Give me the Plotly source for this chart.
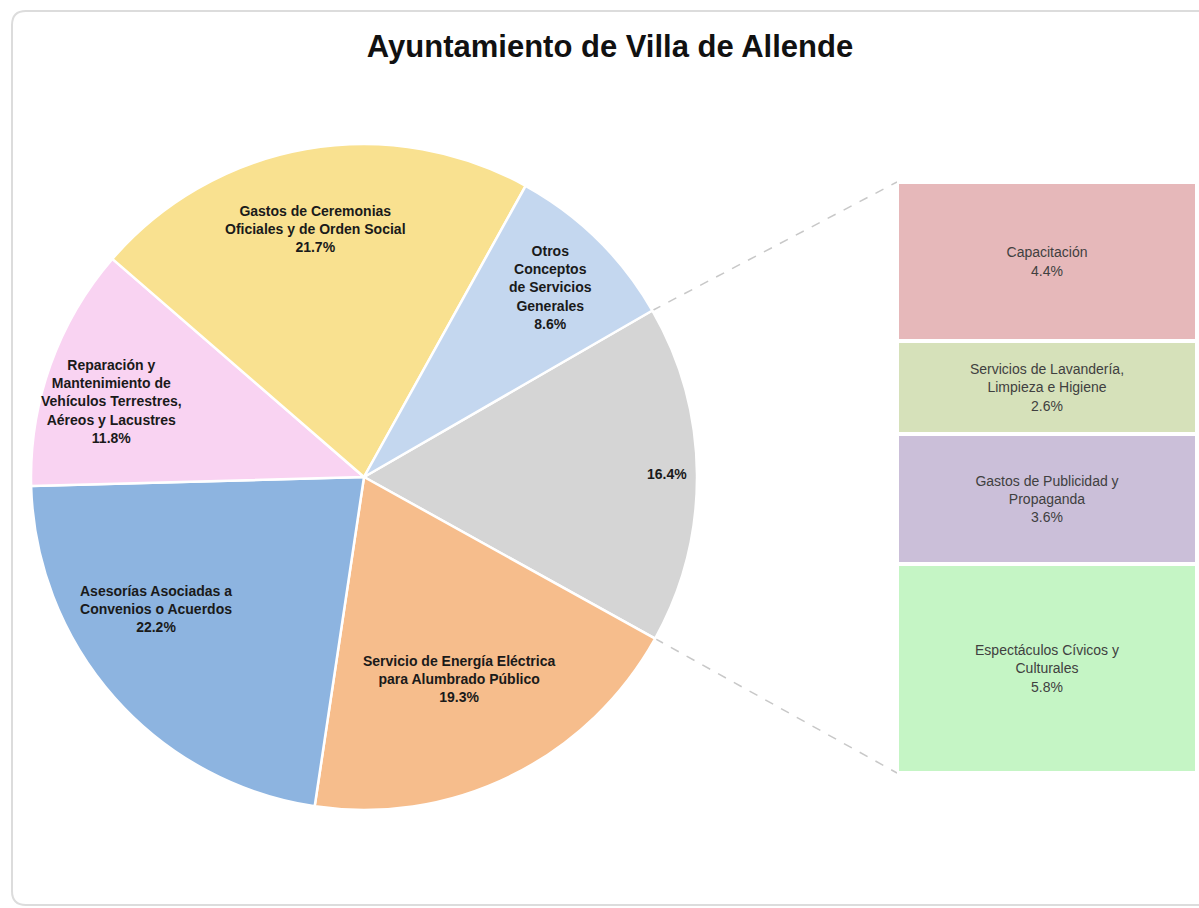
import math
import plotly.graph_objects as go

# ---------------- data ----------------
title_text = "Ayuntamiento de Villa de Allende"

pie_labels = [
    "Otros",
    "Servicio de Energía Eléctrica<br>para Alumbrado Público",
    "Asesorías Asociadas a<br>Convenios o Acuerdos",
    "Reparación y<br>Mantenimiento de<br>Vehículos Terrestres,<br>Aéreos y Lacustres",
    "Gastos de Ceremonias<br>Oficiales y de Orden Social",
    "Otros<br>Conceptos<br>de Servicios<br>Generales",
]
pie_values = [16.4, 19.3, 22.2, 11.8, 21.7, 8.6]
pie_show_name = [False, True, True, True, True, True]

bar_labels = [
    "Espectáculos Cívicos y<br>Culturales",
    "Gastos de Publicidad y<br>Propaganda",
    "Servicios de Lavandería,<br>Limpieza e Higiene",
    "Capacitación",
]
bar_values = [5.8, 3.6, 2.6, 4.4]

# ---------------- style ----------------
W, H = 1199, 908
pie_colors = ["#D5D5D5", "#F6BD8C", "#8DB4E0", "#F9D3F2", "#F9E190", "#C4D7EF"]
bar_colors = ["#C5F5C5", "#CBBFD9", "#D6E1BA", "#E6B8BA"]
label_radius = [0.91, 0.67, 0.74, 0.79, 0.76, 0.80]
label_angle_offset = [0, -1, -9, 3, 1, 0]

cx, cy, R = 364, 477, 333          # pie centre / radius in pixels
rotation = 60                      # first slice starts at 60 deg clockwise from 12 o'clock
bx0, bx1, by0, by1 = 897, 1197, 182, 773   # bar area in pixels

font_family = "Liberation Sans, Arial, sans-serif"

def px_to_paper(x, y):
    return x / W, 1 - y / H

pie_domain_x = [(cx - R) / W, (cx + R) / W]
pie_domain_y = [(H - cy - R) / H, (H - cy + R) / H]

fig = go.Figure()

fig.add_trace(go.Pie(
    values=pie_values,
    labels=[l.replace("<br>", " ") for l in pie_labels],
    sort=False,
    direction="clockwise",
    rotation=rotation,
    marker=dict(colors=pie_colors, line=dict(color="white", width=2.5)),
    textinfo="none",
    domain=dict(x=pie_domain_x, y=pie_domain_y),
    showlegend=False,
    hoverinfo="label+value",
))

for lab, val, col in zip(bar_labels, bar_values, bar_colors):
    fig.add_trace(go.Bar(
        x=[0], y=[val],
        marker=dict(color=col, line=dict(color="white", width=4)),
        text=[f"{lab}<br>{val:.1f}%"],
        textposition="inside",
        insidetextanchor="middle",
        textangle=0,
        textfont=dict(family=font_family, size=14, color="#404040"),
        showlegend=False,
        hoverinfo="y",
    ))

total = sum(pie_values)
annotations = []
start = 90 - rotation
cum = 0.0
slice_angles = []
for i, v in enumerate(pie_values):
    a0 = start - 360 * cum / total
    a1 = a0 - 360 * v / total
    slice_angles.append((a0, a1))
    mid = math.radians((a0 + a1) / 2 + label_angle_offset[i])
    r = R * label_radius[i]
    x, y = px_to_paper(cx + r * math.cos(mid), cy - r * math.sin(mid))
    txt = f"{v:.1f}%" if not pie_show_name[i] else f"{pie_labels[i]}<br>{v:.1f}%"
    annotations.append(dict(
        x=x, y=y, xref="paper", yref="paper", text=f"<b>{txt}</b>", showarrow=False,
        font=dict(family=font_family, size=14, color="#1A1A1A"),
        xanchor="center", yanchor="middle", align="center",
    ))
    cum += v

shapes = []
# connector lines from the "other" slice to the bar
a0, a1 = slice_angles[0]
for ang, by in ((a0, by0), (a1, by1)):
    sx, sy = px_to_paper(cx + R * math.cos(math.radians(ang)), cy - R * math.sin(math.radians(ang)))
    ex, ey = px_to_paper(bx0, by)
    shapes.append(dict(type="line", xref="paper", yref="paper", x0=sx, y0=sy, x1=ex, y1=ey,
                       line=dict(color="#C8C8C8", width=1.5, dash="dash"), layer="below"))

# outer rounded frame
fx0, fy0, fx1, fy1, rr = 12, 11, 1210, 905, 14
def P(x, y):
    px, py = px_to_paper(x, y)
    return f"{px:.5f},{py:.5f}"
path = (f"M {P(fx0 + rr, fy0)} L {P(fx1, fy0)} L {P(fx1, fy1)} L {P(fx0 + rr, fy1)} "
        f"Q {P(fx0, fy1)} {P(fx0, fy1 - rr)} L {P(fx0, fy0 + rr)} Q {P(fx0, fy0)} {P(fx0 + rr, fy0)} Z")
shapes.append(dict(type="path", xref="paper", yref="paper", path=path,
                   line=dict(color="#DCDCDC", width=2), layer="below"))

fig.update_layout(
    width=W, height=H,
    margin=dict(l=0, r=0, t=0, b=0),
    paper_bgcolor="white", plot_bgcolor="white",
    barmode="stack", bargap=0,
    title=dict(text=f"<b>{title_text}</b>", x=610 / W, xanchor="center",
               y=1 - 46 / H, yanchor="middle",
               font=dict(family=font_family, size=31, color="#111111")),
    xaxis=dict(domain=[bx0 / W, bx1 / W], range=[-0.5, 0.5], visible=False, fixedrange=True),
    yaxis=dict(domain=[1 - by1 / H, 1 - by0 / H], range=[0, sum(bar_values)], visible=False, fixedrange=True),
    annotations=annotations,
    shapes=shapes,
    uniformtext=dict(mode=False),
)

fig.write_html("out.html", config={"displayModeBar": False},
               post_script="document.body.style.margin='0';document.body.style.overflow='hidden';")
